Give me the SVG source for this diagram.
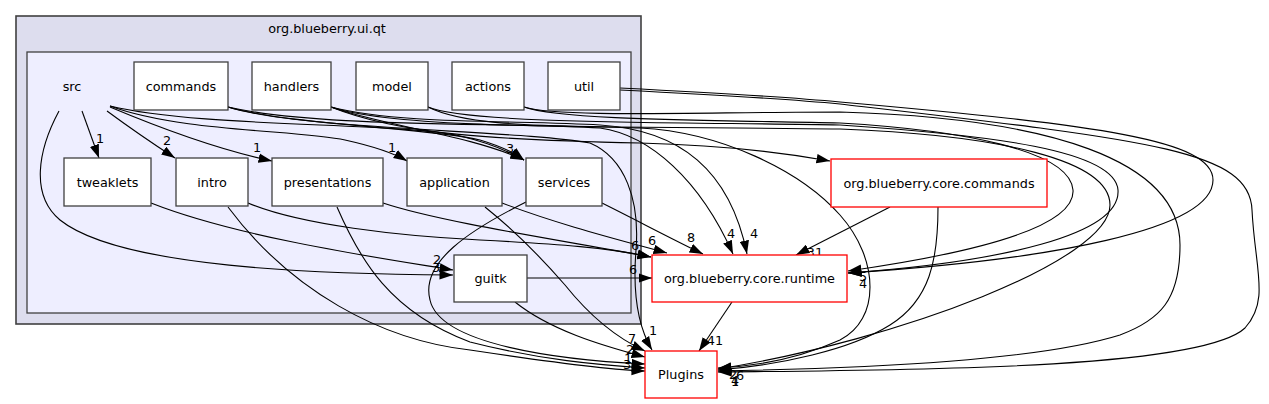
<svg xmlns="http://www.w3.org/2000/svg" width="1269" height="404" viewBox="0 0 1269 404">
<style>
text{font-family:"DejaVu Sans","Liberation Sans",sans-serif;font-size:12.8px;fill:#000}
.c{text-anchor:middle}
.lbl{text-anchor:middle;font-size:12.8px}
.dir{fill:#fff;stroke:#404040;stroke-width:1.3}
.ext{fill:#fff;stroke:#ff0000;stroke-width:1.3}
.e{fill:none;stroke:#000;stroke-width:1.1;marker-end:url(#ah)}
</style>
<defs>
<marker id="ah" viewBox="0 0 10 7" refX="10" refY="3.5" markerWidth="13.5" markerHeight="10" markerUnits="userSpaceOnUse" orient="auto">
<path d="M0,0 L10,3.5 L0,7 z" fill="#000"/>
</marker>
</defs>
<rect width="1269" height="404" fill="#fff"/>
<g id="cluster_ui_qt">
<rect x="16" y="16" width="625" height="308" fill="#ddddee" stroke="#404040" stroke-width="1.6"/>
<text class="c" x="327" y="33">org.blueberry.ui.qt</text>
</g>
<g id="cluster_src">
<rect x="27" y="52" width="604" height="261" fill="#eeeeff" stroke="#404040" stroke-width="1.3"/>
<text class="c" x="72" y="90.5">src</text>
</g>
<g id="edges">
<path class="e" d="M82,111 L99,158"/>
<path class="e" d="M107,111 C130,128 155,145 175,158"/>
<path class="e" d="M110,107 C160,128 220,150 272,161"/>
<path class="e" d="M110,106 C180,132 300,130 345,140 C372,146 392,152 407,161"/>
<path class="e" d="M110,106 C200,128 400,122 460,136 C490,143 510,152 524,160"/>
<path class="e" d="M59,111 C38,150 30,195 60,220 C120,268 320,274 453,275"/>
<path class="e" d="M151,203 C240,238 380,258 453,270"/>
<path class="e" d="M248,203 C300,225 400,236 480,240 C560,244 610,248 651,257"/>
<path class="e" d="M383,203 C440,222 560,240 651,257"/>
<path class="e" d="M502,203 C560,225 620,240 667,253"/>
<path class="e" d="M602,203 C640,222 670,238 703,254"/>
<path class="e" d="M527,278 L652,278"/>
<path class="e" d="M890,207 L796,255"/>
<path class="e" d="M732,302 L699,351"/>
<path class="e" d="M938,207 C938,260 930,300 890,325 C850,350 780,365 718,370"/>
<path class="e" d="M485,207 C520,235 545,262 565,285 C585,310 610,335 645,351"/>
<path class="e" d="M515,302 C550,330 600,345 645,357"/>
<path class="e" d="M526,202 C470,230 420,262 430,300 C440,345 560,360 645,364"/>
<path class="e" d="M228,207 C290,290 380,340 470,350 C550,362 610,370 645,371"/>
<path class="e" d="M337,207 C360,260 390,312 470,342 C540,360 600,365 645,368"/>
<path class="e" d="M228,107 C290,125 430,128 480,140 C500,146 515,153 524,160"/>
<path class="e" d="M331,107 C380,125 470,135 524,160"/>
<path class="e" d="M331,107 C400,135 500,140 640,143 C720,145 780,152 830,161"/>
<path class="e" d="M228,107 C320,128 500,122 600,128 C650,135 700,180 733,254"/>
<path class="e" d="M331,107 C400,125 520,120 600,125 C680,130 730,170 747,254"/>
<path class="e" d="M228,107 C300,130 520,130 590,143 C625,158 640,200 636,250 C632,300 640,330 652,350"/>
<path class="e" d="M428,107 C470,128 560,125 640,128 C720,132 800,170 840,215 C880,260 880,320 840,340 C800,358 760,366 718,368"/>
<path class="e" d="M428,107 C470,125 700,122 840,125 C990,135 1115,150 1118,190 C1121,235 1000,262 848,273"/>
<path class="e" d="M524,107 C560,120 700,120 840,123 C960,130 1070,150 1073,190 C1076,230 960,255 848,271"/>
<path class="e" d="M331,107 C400,130 600,126 840,129 C1000,135 1110,160 1110,205 C1110,260 900,340 718,369"/>
<path class="e" d="M524,107 C560,118 700,112 840,112 C1050,118 1180,160 1180,245 C1180,300 1160,320 1120,335 C1040,360 880,368 718,371"/>
<path class="e" d="M620,88 C700,92 780,96 840,102 C1100,125 1213,140 1213,180 C1213,230 1050,260 848,273"/>
<path class="e" d="M620,90 C700,94 780,98 840,104 C1150,140 1250,150 1252,210 C1255,270 1270,300 1245,328 C1200,370 900,370 718,372"/>
<text class="lbl" x="100" y="143">1</text>
<text class="lbl" x="167" y="145">2</text>
<text class="lbl" x="257" y="152">1</text>
<text class="lbl" x="392" y="152">1</text>
<text class="lbl" x="510" y="153">3</text>
<text class="lbl" x="437" y="264">2</text>
<text class="lbl" x="436" y="272">3</text>
<text class="lbl" x="635" y="250">6</text>
<text class="lbl" x="652" y="245">6</text>
<text class="lbl" x="691" y="242">8</text>
<text class="lbl" x="731" y="238">4</text>
<text class="lbl" x="754" y="238">4</text>
<text class="lbl" x="815" y="257">31</text>
<text class="lbl" x="633" y="274">6</text>
<text class="lbl" x="715" y="345">41</text>
<text class="lbl" x="653" y="335">1</text>
<text class="lbl" x="632" y="343">7</text>
<text class="lbl" x="630" y="354">2</text>
<text class="lbl" x="628" y="363">1</text>
<text class="lbl" x="627" y="369">3</text>
<text class="lbl" x="863" y="281">5</text>
<text class="lbl" x="863" y="288">4</text>
<text class="lbl" x="733" y="379">2</text>
<text class="lbl" x="740" y="380">6</text>
<text class="lbl" x="735" y="386">1</text>
<text class="lbl" x="735" y="385">4</text>
</g>
<g id="node_commands"><rect class="dir" x="134" y="62" width="94" height="48"/><text class="c" x="181" y="90.5">commands</text></g>
<g id="node_handlers"><rect class="dir" x="252" y="62" width="79" height="48"/><text class="c" x="291.5" y="90.5">handlers</text></g>
<g id="node_model"><rect class="dir" x="356" y="62" width="72" height="48"/><text class="c" x="392" y="90.5">model</text></g>
<g id="node_actions"><rect class="dir" x="452" y="62" width="72" height="48"/><text class="c" x="488" y="90.5">actions</text></g>
<g id="node_util"><rect class="dir" x="548" y="62" width="72" height="48"/><text class="c" x="584" y="90.5">util</text></g>
<g id="node_tweaklets"><rect class="dir" x="64" y="158" width="87" height="48"/><text class="c" x="107.5" y="186.5">tweaklets</text></g>
<g id="node_intro"><rect class="dir" x="176" y="158" width="72" height="48"/><text class="c" x="212" y="186.5">intro</text></g>
<g id="node_presentations"><rect class="dir" x="272" y="158" width="111" height="48"/><text class="c" x="327.5" y="186.5">presentations</text></g>
<g id="node_application"><rect class="dir" x="407" y="158" width="95" height="48"/><text class="c" x="454.5" y="186.5">application</text></g>
<g id="node_services"><rect class="dir" x="526" y="158" width="76" height="48"/><text class="c" x="564" y="186.5">services</text></g>
<g id="node_guitk"><rect class="dir" x="454" y="255" width="73" height="47"/><text class="c" x="490.5" y="283">guitk</text></g>
<g id="node_core_commands"><rect class="ext" x="831" y="159" width="216" height="48"/><text class="c" x="939" y="187.5">org.blueberry.core.commands</text></g>
<g id="node_core_runtime"><rect class="ext" x="652" y="255" width="195" height="47"/><text class="c" x="749.5" y="283">org.blueberry.core.runtime</text></g>
<g id="node_plugins"><rect class="ext" x="645" y="351" width="72" height="47"/><text class="c" x="681" y="379">Plugins</text></g>
</svg>
